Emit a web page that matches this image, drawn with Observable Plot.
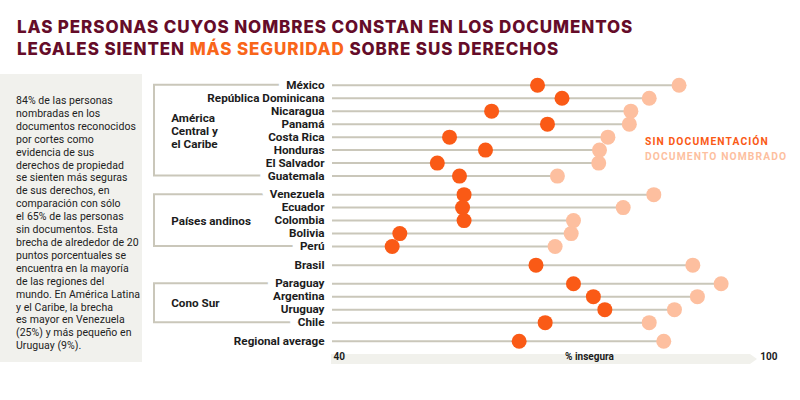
<!DOCTYPE html>
<html><head><meta charset="utf-8">
<script src="https://cdn.jsdelivr.net/npm/d3@7"></script>
<script src="https://cdn.jsdelivr.net/npm/@observablehq/plot@0.6"></script>
<style>
body{margin:0;background:#fff;}
#wrap{position:relative;width:800px;height:400px;overflow:hidden;font-family:Roboto,sans-serif;}
#title{position:absolute;left:17px;top:15.7px;font-family:Inter,sans-serif;font-weight:800;font-size:17px;line-height:22px;color:#650c29;letter-spacing:0.9px;white-space:nowrap;}
#title .hl{color:#f9661a;}
#box{position:absolute;left:0;top:74px;width:142px;height:288px;background:#f1f1ed;box-sizing:border-box;padding:21px 0 0 16px;font-family:Roboto,sans-serif;font-size:10.5px;line-height:12.9px;letter-spacing:0.05px;color:#222;white-space:nowrap;}
#legend{position:absolute;left:645px;top:133.5px;font-size:10.3px;line-height:15px;font-weight:700;letter-spacing:1.1px;z-index:2;white-space:nowrap;}
#chart{position:absolute;left:142px;top:70px;}
</style></head>
<body>
<div id="wrap">
  <div id="title">LAS PERSONAS CUYOS NOMBRES CONSTAN EN LOS DOCUMENTOS<br>LEGALES SIENTEN <span class="hl">MÁS SEGURIDAD</span> SOBRE SUS DERECHOS</div>
  <div id="box"></div>
  <div id="chart"></div>
  <div id="legend"></div>
</div>
<script>
const countries = ["México","República Dominicana","Nicaragua","Panamá","Costa Rica","Honduras","El Salvador","Guatemala","Venezuela","Ecuador","Colombia","Bolivia","Perú","Brasil","Paraguay","Argentina","Uruguay","Chile","Regional average"];
const groupNames = ["América\nCentral y\nel Caribe", "Países andinos", "", "Cono Sur", ""];
const groupSizes = [8, 5, 1, 4, 1];
const sinDocumentacion = [66.8, 70.0, 60.8, 68.1, 55.3, 60.0, 53.7, 56.6, 57.2, 57.0, 57.2, 48.8, 47.8, 66.6, 71.5, 74.1, 75.6, 67.8, 64.4];
const documentoNombrado = [85.3, 81.4, 79.0, 78.8, 76.0, 74.9, 74.8, 69.4, 82.0, 78.0, 71.5, 71.2, 69.1, 87.1, 90.8, 87.7, 84.7, 81.4, 83.3];
const axisTicks = [40, 100];
const axisLabel = "% insegura";
const legendItems = ["SIN DOCUMENTACIÓN", "DOCUMENTO NOMBRADO"];
const colors = ["#fa5a16", "#fdbf9f"];
const noteLines = ["84% de las personas","nombradas en los","documentos reconocidos","por cortes como","evidencia de sus","derechos de propiedad","se sienten más seguras","de sus derechos, en","comparación con sólo","el 65% de las personas","sin documentos. Esta","brecha de alrededor de 20","puntos porcentuales se","encuentra en la mayoría","de las regiones del","mundo. En América Latina","y el Caribe, la brecha","es mayor en Venezuela","(25%) y más pequeño en","Uruguay (9%)."];

document.getElementById("box").innerHTML = noteLines.join("<br>");
document.getElementById("legend").innerHTML = legendItems.map((t, i) => `<div style="color:${colors[i]}">${t}</div>`).join("");

const GAP = 0.43;
const rows = [];
const groups = [];
let k = 0;
groupSizes.forEach((n, g) => {
  const members = [];
  for (let j = 0; j < n; j++, k++) {
    const row = {country: countries[k], sin: sinDocumentacion[k], con: documentoNombrado[k], pos: k + g * GAP, group: g,
      endpoint: groupNames[g] !== "" && (j === 0 || j === n - 1)};
    rows.push(row); members.push(row);
  }
  groups.push({name: groupNames[g], top: members[0].pos, bottom: members[n - 1].pos, mid: d3.mean(members, d => d.pos)});
});
const maxPos = rows[rows.length - 1].pos;
const xStart = axisTicks[0];
const lineColor = "#cac7ba";

function brackets(index, scales, values, dim) {
  const g = d3.create("svg:g").attr("fill", "none").attr("stroke", lineColor).attr("stroke-width", 2);
  const x0 = 12, x1 = scales.x(xStart) - 10;
  for (const gr of groups.filter(d => d.name !== "")) {
    const yt = scales.y(gr.top), yb = scales.y(gr.bottom);
    g.append("path").attr("d", `M${x1},${yt}H${x0}V${yb}H${x1}`);
  }
  return g.node();
}
function axisBand(index, scales, values, dim) {
  const yc = dim.height - dim.marginBottom;
  const xa = scales.x(axisTicks[0]) - 1, xb = scales.x(axisTicks[1]) - 41;
  return d3.create("svg:path").attr("fill", "#f1f1ec")
    .attr("d", `M${xa},${yc - 5}H${xb}L${xb + 7},${yc}L${xb},${yc + 5}H${xa}Z`).node();
}

const labelStyle = {x: xStart, y: "pos", text: "country", textAnchor: "end", dx: -8, fontSize: 11.7, fontWeight: "bold", fill: "#1c1c1c"};
const chart = Plot.plot({
  width: 658, height: 330,
  marginLeft: 190, marginRight: 9, marginTop: 0, marginBottom: 41,
  style: {background: "white", fontFamily: "Roboto, sans-serif", overflow: "visible"},
  x: {domain: [axisTicks[0], axisTicks[1]], axis: null},
  y: {domain: [0, maxPos], range: [14.7, 270.7], axis: null},
  marks: [
    brackets,
    Plot.text(rows.filter(d => d.endpoint), {...labelStyle, stroke: "white", strokeWidth: 16, paintOrder: "stroke", strokeLinejoin: "round"}),
    Plot.text(rows.filter(d => !d.endpoint), labelStyle),
    Plot.text(groups.filter(d => d.name !== ""), {x: xStart, y: "mid", text: "name", textAnchor: "start", dx: -161.3, fontSize: 11.7, fontWeight: "bold", lineHeight: 1.1, fill: "#1c1c1c"}),
    Plot.ruleY(rows, {y: "pos", x1: xStart, x2: "con", stroke: lineColor, strokeWidth: 2}),
    Plot.dot(rows, {x: "con", y: "pos", r: 7.5, fill: colors[1]}),
    Plot.dot(rows, {x: "sin", y: "pos", r: 7.5, fill: colors[0]}),
    axisBand,
    Plot.text([axisTicks[0]], {x: d => d, text: d => String(d), frameAnchor: "bottom", textAnchor: "start", dx: 1, fontSize: 10, fontWeight: "bold", fill: "#1c1c1c"}),
    Plot.text([axisTicks[1]], {x: d => d, text: d => String(d), frameAnchor: "bottom", textAnchor: "end", dx: -14, fontSize: 10, fontWeight: "bold", fill: "#1c1c1c"}),
    Plot.text([axisLabel], {text: d => d, frameAnchor: "bottom", dx: 27.5, fontSize: 10, fontWeight: "bold", fill: "#1c1c1c"})
  ]
});
document.getElementById("chart").appendChild(chart);
</script>
</body></html>
